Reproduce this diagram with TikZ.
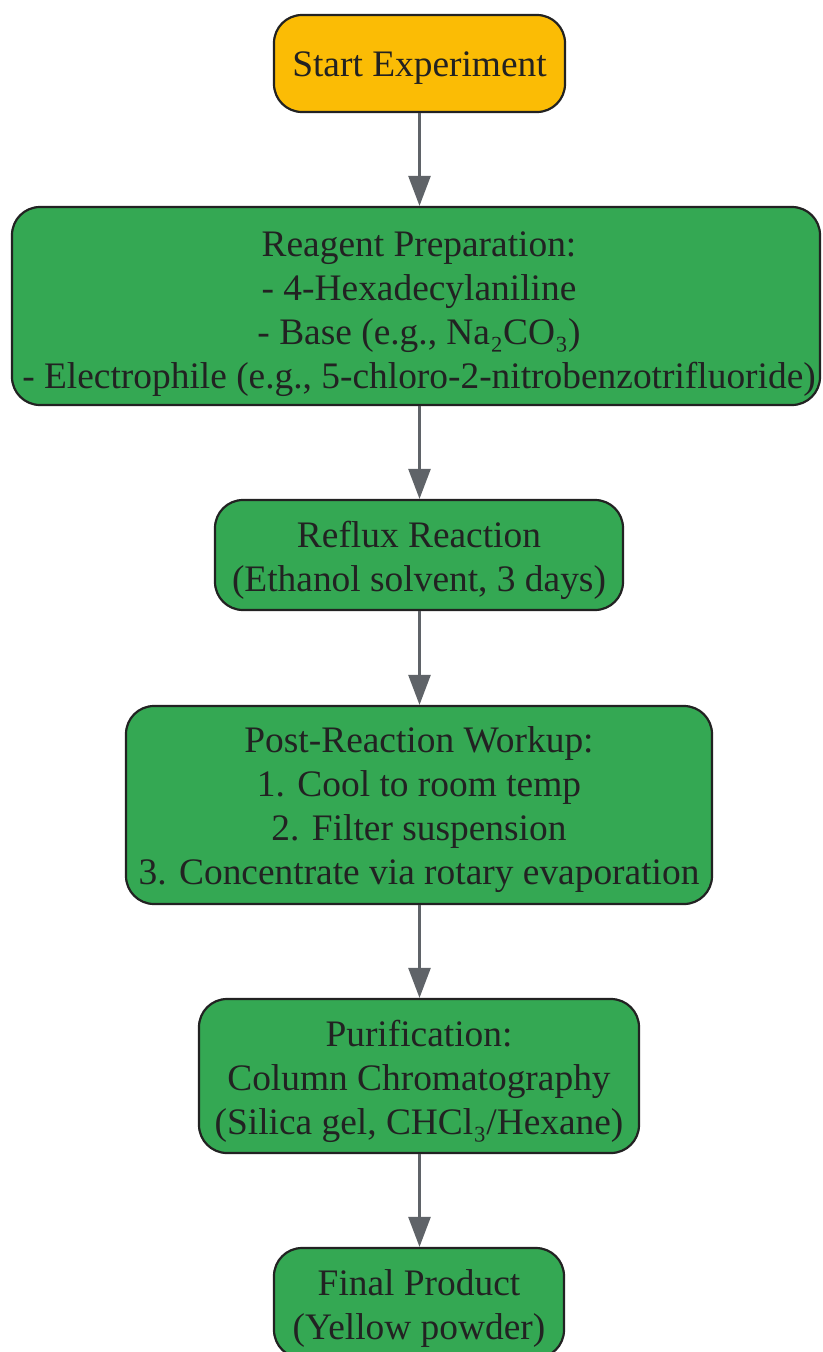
\documentclass[tikz,border=0pt]{standalone}
\usepackage{fontspec}
\setmainfont{Liberation Serif}
\usetikzlibrary{arrows.meta}
\definecolor{startyellow}{HTML}{FBBC05}
\definecolor{stepgreen}{HTML}{34A853}
\definecolor{edgedark}{HTML}{222222}
\definecolor{arrowgray}{HTML}{5F6368}
\definecolor{txt}{HTML}{222222}
\tikzset{
  box/.style={draw=edgedark, line width=2.2pt, rounded corners=28pt, inner sep=0pt},
  startbox/.style={box, fill=startyellow},
  stepbox/.style={box, fill=stepgreen},
  lbl/.style={align=center, text=txt, inner sep=0pt, font=\fontsize{37.4}{44}\selectfont},
  flow/.style={draw=arrowgray, line width=2.6pt, -{Triangle[length=30pt,width=22pt]}}
}
\begin{document}
\begin{tikzpicture}[x=1pt,y=-1pt]
\useasboundingbox (0,0) rectangle (822,1352);
\node[startbox, minimum width=291pt, minimum height=97pt] (start) at (419.5,63.5) {};
\node[lbl] (starttxt) at (419.5,68.5) {Start Experiment};
\node[stepbox, minimum width=808pt, minimum height=198pt] (reagent) at (416,306) {};
\node[lbl] (reagenttxt) at (419,314)
  {Reagent Preparation:\\- 4-Hexadecylaniline\\- Base (e.g., Na₂CO₃)\\- Electrophile (e.g., 5-chloro-2-nitrobenzotrifluoride)};
\node[stepbox, minimum width=408pt, minimum height=110pt] (reflux) at (419,555) {};
\node[lbl] (refluxtxt) at (419,560) {Reflux Reaction\\(Ethanol solvent, 3 days)};
\node[stepbox, minimum width=586pt, minimum height=198pt] (workup) at (419,805) {};
\node[lbl] (workuptxt) at (419,810) {Post-Reaction Workup:\\1. Cool to room temp\\2. Filter suspension\\3. Concentrate via rotary evaporation};
\node[stepbox, minimum width=440pt, minimum height=154pt] (purif) at (419,1076) {};
\node[lbl] (puriftxt) at (419,1081) {Purification:\\Column Chromatography\\(Silica gel, CHCl₃/Hexane)};
\node[stepbox, minimum width=290pt, minimum height=110pt] (final) at (419,1303) {};
\node[lbl] (finaltxt) at (419,1308) {Final Product\\(Yellow powder)};
\draw[flow] (start.south) -- (reagent.north -| start.south);
\draw[flow] (reagent.south -| start.south) -- (reflux.north -| start.south);
\draw[flow] (reflux.south -| start.south) -- (workup.north -| start.south);
\draw[flow] (workup.south -| start.south) -- (purif.north -| start.south);
\draw[flow] (purif.south -| start.south) -- (final.north -| start.south);
\end{tikzpicture}
\end{document}
